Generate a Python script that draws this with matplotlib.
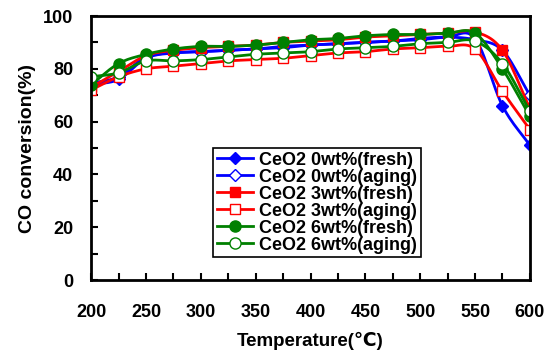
import numpy as np
import matplotlib
matplotlib.use("Agg")
import matplotlib.pyplot as plt

temps = [200, 225, 250, 275, 300, 325, 350, 375, 400, 425, 450, 475, 500, 525, 550, 575, 600]

ce0_fresh = [74, 76, 84, 86, 86.5, 87, 87.5, 88, 89, 89.5, 90, 90.5, 91, 92, 91.5, 66, 51]
ce0_aging = [74.5, 77, 84.5, 86, 86.5, 87, 87.5, 88.5, 89, 89.5, 90, 90.5, 91.5, 92, 91, 87, 70]
ce3_fresh = [73, 79, 85, 87, 88, 88.5, 89, 90, 90.5, 91, 92, 92.5, 93, 93.5, 94, 87, 65]
ce3_aging = [72, 77, 80, 81, 82, 83, 83.5, 84, 85, 86, 86.5, 87.5, 88, 88.5, 87.5, 71.5, 57]
ce6_fresh = [74, 82, 85.5, 87.5, 88.5, 88.5, 89, 90, 91, 91.5, 92.5, 93, 93, 93.5, 93.5, 80, 62]
ce6_aging = [77, 78.5, 83, 83, 83.5, 84.5, 85.5, 86, 86.5, 87.5, 88, 88.5, 89.5, 90, 90.5, 82, 64]

labels = ["CeO2 0wt%(fresh)", "CeO2 0wt%(aging)", "CeO2 3wt%(fresh)",
          "CeO2 3wt%(aging)", "CeO2 6wt%(fresh)", "CeO2 6wt%(aging)"]


def smooth(x, y, n=12):
    # Catmull-Rom path through the points, like Excel's smoothed lines
    x = np.asarray(x, float)
    y = np.asarray(y, float)
    px = np.concatenate([[2 * x[0] - x[1]], x, [2 * x[-1] - x[-2]]])
    py = np.concatenate([[2 * y[0] - y[1]], y, [2 * y[-1] - y[-2]]])
    xs, ys = [], []
    t = np.linspace(0, 1, n, endpoint=False)
    for i in range(1, len(px) - 2):
        for p, out in ((px, xs), (py, ys)):
            p0, p1, p2, p3 = p[i - 1], p[i], p[i + 1], p[i + 2]
            out.extend(0.5 * (2 * p1 + (-p0 + p2) * t + (2 * p0 - 5 * p1 + 4 * p2 - p3) * t ** 2
                              + (-p0 + 3 * p1 - 3 * p2 + p3) * t ** 3))
    xs.append(x[-1])
    ys.append(y[-1])
    return xs, ys


plt.rcParams['font.family'] = ['Liberation Sans', 'DejaVu Sans']
plt.rcParams['font.weight'] = 'bold'

fig = plt.figure(figsize=(5.56, 3.52), dpi=100)
ax = fig.add_axes([0.164, 0.2045, 0.789, 0.75])

series = [
    (ce0_fresh, 'blue', 'D', 'blue', 6),
    (ce0_aging, 'blue', 'D', 'white', 6),
    (ce3_fresh, 'red', 's', 'red', 7),
    (ce3_aging, 'red', 's', 'white', 7),
    (ce6_fresh, 'green', 'o', 'green', 8),
    (ce6_aging, 'green', 'o', 'white', 8),
]

handles = []
for (vals, col, mk, fc, ms), lab in zip(series, labels):
    sx, sy = smooth(temps, vals)
    ax.plot(sx, sy, color=col, lw=2)
    ax.plot(temps, vals, ls='none', marker=mk, ms=ms, mfc=fc, mec=col, mew=1)
    h, = ax.plot([], [], color=col, lw=2, marker=mk, ms=ms, mfc=fc, mec=col, mew=1)
    handles.append(h)

ax.set_xlim(200, 600)
ax.set_ylim(0, 100)
ax.set_xticks(range(200, 601, 50))
ax.set_xticks(range(225, 600, 50), minor=True)
ax.set_yticks(range(0, 101, 20))
ax.set_yticks(range(10, 100, 20), minor=True)
ax.tick_params(which='both', direction='in', width=1.5, length=5)
ax.tick_params(axis='x', labelsize=13, pad=17)
ax.tick_params(axis='y', labelsize=13, pad=13)
for s in ax.spines.values():
    s.set_linewidth(2)

ax.set_xlabel("Temperature(℃)", fontsize=13.5, fontweight='bold', labelpad=8)
ax.set_ylabel("CO conversion(%)", fontsize=14, fontweight='bold', labelpad=5)

leg = ax.legend(handles, labels, loc='upper left', bbox_to_anchor=(0.278, 0.5),
                fontsize=13, labelspacing=0.0, handlelength=2.0, handletextpad=0.35,
                borderpad=0.2, borderaxespad=0, fancybox=False, framealpha=1,
                edgecolor='black')
leg.get_frame().set_linewidth(1.2)

plt.savefig("out.png", dpi=100)
